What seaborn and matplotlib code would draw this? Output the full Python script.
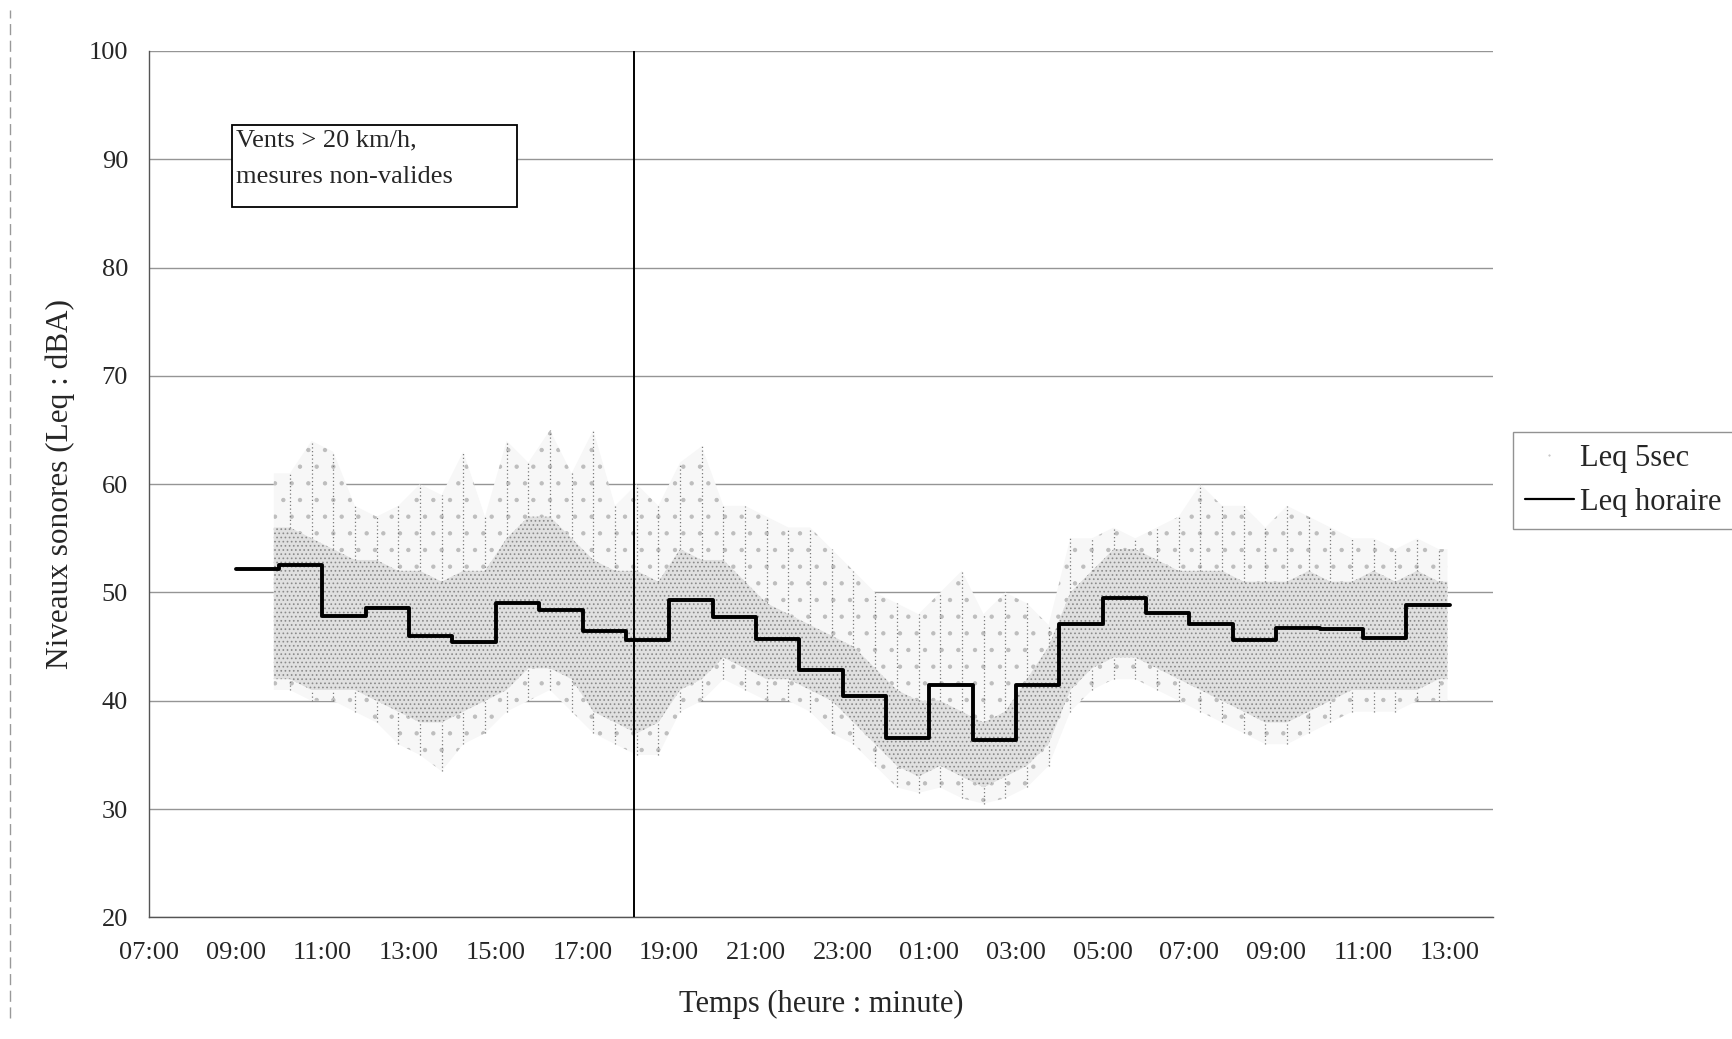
import numpy as np
import pandas as pd
import matplotlib.pyplot as plt
from matplotlib.lines import Line2D
from matplotlib.patches import Rectangle
import seaborn as sns

# Leq horaire (heures depuis 00:00 du premier jour, 24 = minuit)
heure_debut = [9, 10, 11, 12, 13, 14, 15, 16, 17, 18, 19, 20, 21, 22, 23,
               24, 25, 26, 27, 28, 29, 30, 31, 32, 33, 34, 35, 36]
leq_horaire = [52.2, 52.5, 47.8, 48.6, 46.0, 45.4, 49.0, 48.4, 46.4, 45.6,
               49.3, 47.7, 45.7, 42.8, 40.4, 36.6, 41.5, 36.4, 41.5, 47.1,
               49.5, 48.1, 47.1, 45.6, 46.7, 46.6, 45.8, 48.8]

# Leq 5sec, lu par demi-heure : coeur dense et extremes
demi_heure = list(np.arange(10.0, 37.0, 0.5))
coeur_bas = [42, 41, 41, 41, 40, 39, 38, 38, 39, 40, 41, 43, 43, 42, 39, 38,
             37, 38, 41, 42, 44, 43, 42, 42, 41, 40, 38, 36, 34, 33, 34, 33,
             32, 33, 34, 36, 41, 43, 44, 44, 43, 42, 41, 40, 39, 38, 38, 39,
             40, 41, 41, 41, 41, 42]
coeur_haut = [56, 55, 54, 53, 53, 52, 52, 51, 52, 52, 55, 57, 57, 55, 53, 52,
              52, 51, 54, 53, 53, 51, 49, 48, 47, 46, 45, 43, 41, 40, 40, 39,
              38, 39, 42, 45, 50, 52, 54, 54, 53, 52, 52, 52, 51, 51, 51, 52,
              51, 51, 52, 51, 52, 51]
minimum = [41, 40, 40, 39, 38, 36, 35, 33.5, 36, 37, 39, 40, 41, 39, 37, 36,
           35, 35, 39, 40, 42, 41, 40, 40, 39, 37, 36, 34, 32, 31.5, 32, 31,
           30.5, 31, 32, 34, 39, 41, 42, 42, 41, 40, 39, 38, 37, 36, 36, 37,
           38, 39, 39, 39, 40, 40]
maximum = [61, 64, 63, 58, 57, 58, 60, 59, 63, 57, 64, 62, 65, 61, 65, 58,
           60, 58, 62, 63.5, 58, 58, 57, 56, 56, 54, 52, 50, 49, 48, 50, 52,
           48, 50, 49, 47, 55, 55, 56, 55, 56, 57, 60, 58, 58, 56, 58, 57,
           56, 55, 55, 54, 55, 54]

ticks_x = list(range(7, 38, 2))
labels_x = ['07:00', '09:00', '11:00', '13:00', '15:00', '17:00', '19:00',
            '21:00', '23:00', '01:00', '03:00', '05:00', '07:00', '09:00',
            '11:00', '13:00']

df_h = pd.DataFrame({'heure': heure_debut + [37], 'leq': leq_horaire + [leq_horaire[-1]]})

sns.set_theme(style='white')
plt.rcParams['font.family'] = ['Liberation Serif', 'DejaVu Serif']
plt.rcParams['hatch.linewidth'] = 0.7

fig = plt.figure(figsize=(17.32, 10.39), dpi=100)
ax = fig.add_axes([0.086, 0.117, 0.776, 0.834])

# nuage Leq 5sec
centres = [h + 0.25 for h in demi_heure]
x_nuage = [9.88] + centres + [36.95]
bout = lambda v: [v[0]] + list(v) + [v[-1]]
ax.fill_between(x_nuage, bout(minimum), bout(maximum),
                facecolor='#f7f7f7', edgecolor='#bdbdbd', hatch='.', linewidth=0, zorder=1)
ax.fill_between(x_nuage, bout(coeur_bas), bout(coeur_haut),
                facecolor='#e0e0e0', edgecolor='#8a8a8a', hatch='....', linewidth=0, zorder=2)
ax.vlines(centres, coeur_haut, maximum, colors='#7a7a7a', linestyles=(0, (1, 2)), linewidth=0.9, zorder=2)
ax.vlines(centres, minimum, coeur_bas, colors='#7a7a7a', linestyles=(0, (1, 2)), linewidth=0.9, zorder=2)

# Leq horaire
sns.lineplot(data=df_h, x='heure', y='leq', drawstyle='steps-post', color='black',
             linewidth=2.8, ax=ax, zorder=5)

ax.axvline(18.18, color='black', linewidth=1.4, zorder=6)

ax.set_xlim(7, 38)
ax.set_ylim(20, 100)
ax.set_yticks(range(20, 101, 10))
ax.set_xticks(ticks_x)
ax.set_xticklabels(labels_x)
ax.set_xticks(range(7, 38), minor=True)
ax.grid(axis='y', color='#959595', linewidth=1.0)
ax.set_axisbelow(True)
for s in ['top', 'right']:
    ax.spines[s].set_visible(False)
for s in ['left', 'bottom']:
    ax.spines[s].set_color('#555555')
    ax.spines[s].set_linewidth(1.0)
ax.tick_params(axis='both', which='both', direction='out', color='#555555', width=1)
ax.tick_params(axis='x', which='major', length=8, labelsize=19, pad=10)
ax.tick_params(axis='x', which='minor', length=8)
ax.tick_params(axis='y', length=7, labelsize=19, pad=8)

ax.set_xlabel('Temps (heure : minute)', fontsize=22, labelpad=18)
ax.set_ylabel('Niveaux sonores (Leq : dBA)', fontsize=22.5, labelpad=10)

# encadre vent
ax.add_patch(Rectangle((8.92, 85.6), 6.58, 7.55, facecolor='white', edgecolor='black',
                       linewidth=1.3, zorder=7))
ax.text(9.0, 92.75, 'Vents > 20 km/h,\nmesures non-valides', fontsize=19, va='top',
        ha='left', linespacing=1.85, zorder=8)

handles = [Line2D([], [], color='#bbbbbb', marker='.', linestyle='none', markersize=1),
           Line2D([], [], color='black', linewidth=1.6)]
leg = ax.legend(handles, ['Leq 5sec', 'Leq horaire'], loc='upper left',
                bbox_to_anchor=(0.8736, 0.584), bbox_transform=fig.transFigure,
                frameon=True, fancybox=False, edgecolor='#777777', fontsize=22,
                handlelength=1.6, handletextpad=0.2, borderpad=0.38, labelspacing=0.5,
                borderaxespad=0)
leg.get_frame().set_linewidth(1.0)

fig.add_artist(Line2D([0.006, 0.006], [0.02, 0.99], color='#999999', linewidth=1,
                      linestyle=(0, (8, 4))))

fig.savefig('out.png', dpi=100)
